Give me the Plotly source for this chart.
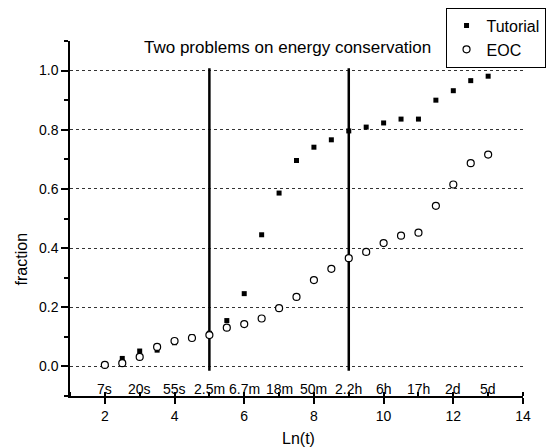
import plotly.graph_objects as go

# ---- data ----
x_vals = [2, 2.5, 3, 3.5, 4, 4.5, 5, 5.5, 6, 6.5, 7, 7.5, 8, 8.5, 9, 9.5, 10, 10.5, 11, 11.5, 12, 12.5, 13]
tutorial = [0.005, 0.027, 0.052, 0.055, 0.080, 0.101, 0.112, 0.155, 0.246, 0.445, 0.586, 0.696, 0.741, 0.766,
            0.796, 0.809, 0.823, 0.836, 0.836, 0.900, 0.932, 0.966, 0.981]
eoc = [0.005, 0.011, 0.032, 0.066, 0.086, 0.096, 0.106, 0.131, 0.143, 0.162, 0.197, 0.235, 0.292, 0.330,
       0.366, 0.387, 0.417, 0.442, 0.452, 0.543, 0.615, 0.687, 0.716]

time_pos = [2, 3, 4, 5, 6, 7, 8, 9, 10, 11, 12, 13]
time_labels = ["7s", "20s", "55s", "2.5m", "6.7m", "18m", "50m", "2.2h", "6h", "17h", "2d", "5d"]

vline_x = [5, 9]
vline_y = [-0.015, 1.008]

title_text = "Two problems on energy conservation"

fig = go.Figure()

for vx in vline_x:
    fig.add_trace(go.Scatter(x=[vx, vx], y=vline_y, mode="lines",
                             line=dict(color="black", width=2.5), showlegend=False, hoverinfo="skip"))

fig.add_trace(go.Scatter(x=x_vals, y=tutorial, mode="markers", name="Tutorial",
                         marker=dict(symbol="square", size=5, color="black")))
fig.add_trace(go.Scatter(x=x_vals, y=eoc, mode="markers", name="EOC",
                         marker=dict(symbol="circle", size=7, color="white",
                                     line=dict(color="black", width=1.2))))

annotations = []
for p, t in zip(time_pos, time_labels):
    annotations.append(dict(x=p, y=-0.077, xref="x", yref="y", text=t, showarrow=False,
                            font=dict(size=14, color="black"), xanchor="center", yanchor="middle"))
annotations.append(dict(x=0.481, y=0.982, xref="paper", yref="paper", text=title_text, showarrow=False,
                        font=dict(size=17, color="black"), xanchor="center", yanchor="middle"))
annotations.append(dict(x=0.505, y=-0.12, xref="paper", yref="paper", text="Ln(t)", showarrow=False,
                        font=dict(size=16, color="black"), xanchor="center", yanchor="middle"))
annotations.append(dict(x=-0.108, y=0.385, xref="paper", yref="paper", text="fraction", showarrow=False,
                        textangle=-90, font=dict(size=16, color="black"), xanchor="center", yanchor="middle"))

fig.update_layout(
    width=559, height=448,
    margin=dict(l=70, r=36, t=41, b=52, autoexpand=False),
    paper_bgcolor="white", plot_bgcolor="white",
    font=dict(family="Liberation Sans, Arial, sans-serif", color="black"),
    annotations=annotations,
    legend=dict(x=0.829, y=1.094, xanchor="left", yanchor="top",
                bordercolor="black", borderwidth=1, bgcolor="white",
                font=dict(size=16), itemsizing="trace", tracegroupgap=0),
    xaxis=dict(range=[1, 14], tick0=0, dtick=2, showgrid=False, zeroline=False,
               showline=True, linecolor="black", linewidth=1.5,
               ticks="outside", ticklen=6, tickwidth=1.5, tickcolor="black",
               tickfont=dict(size=14),
               minor=dict(dtick=1, tick0=0, ticks="inside", ticklen=4, tickwidth=1.5, tickcolor="black", showgrid=False)),
    yaxis=dict(range=[-0.1, 1.1], tick0=0, dtick=0.2, tickformat=".1f", zeroline=False,
               showgrid=True, gridcolor="#333333", gridwidth=1, griddash="dot",
               showline=True, linecolor="black", linewidth=1.5,
               ticks="outside", ticklen=7, tickwidth=1.5, tickcolor="black",
               tickfont=dict(size=14),
               minor=dict(dtick=0.1, tick0=0.1, ticks="outside", ticklen=4, tickwidth=1.5, tickcolor="black", showgrid=False)),
)

fig.write_html("out.html")
